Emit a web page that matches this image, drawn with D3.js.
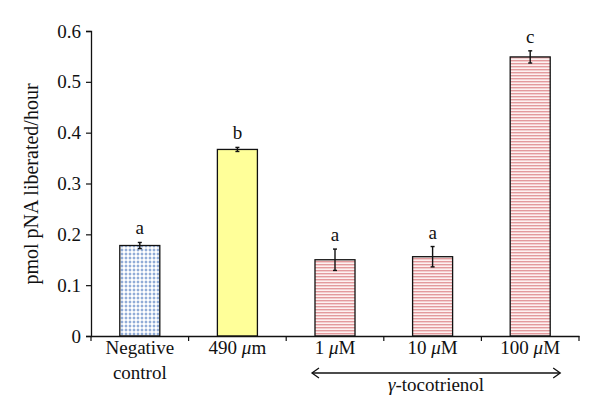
<!DOCTYPE html>
<html><head><meta charset="utf-8">
<script src="https://cdn.jsdelivr.net/npm/d3@7"></script>
<style>body{margin:0;background:#fff}svg{display:block}</style>
</head><body><div id="c"></div>
<script>
const categories = ["neg","490","1","10","100"];
const labelLines = [[["Negative",""]],[["490 ",""],["μ","i"],["m",""]],[["1 ",""],["μ","i"],["M",""]],[["10 ",""],["μ","i"],["M",""]],[["100 ",""],["μ","i"],["M",""]]];
const values = [0.178, 0.367, 0.150, 0.156, 0.549];
const errors = [0.006, 0.004, 0.021, 0.020, 0.012];
const letters = ["a","b","a","a","c"];
const fills = ["url(#dots)","#ffff99","url(#stripes)","url(#stripes)","url(#stripes)"];
const yTicks = [0,0.1,0.2,0.3,0.4,0.5,0.6];

const FF='"Liberation Serif"';
const W=600,H=418;
const svg=d3.select("#c").append("svg").attr("width",W).attr("height",H);
svg.append("rect").attr("width",W).attr("height",H).attr("fill","#fff");
const defs=svg.append("defs");
const pd=defs.append("pattern").attr("id","dots").attr("patternUnits","userSpaceOnUse").attr("width",4).attr("height",4);
pd.append("rect").attr("width",4).attr("height",4).attr("fill","#fff");
pd.append("path").attr("d","M2,0.3 L3.7,2 L2,3.7 L0.3,2Z").attr("fill","#8ea9d6");
const ps=defs.append("pattern").attr("id","stripes").attr("patternUnits","userSpaceOnUse").attr("width",6).attr("height",3);
ps.append("rect").attr("width",6).attr("height",3).attr("fill","#fdf1f1");
ps.append("rect").attr("y",0).attr("width",6).attr("height",1.4).attr("fill","#e39a9d");

const x=d3.scaleBand().domain(categories).range([91,579]).paddingInner(0.59).paddingOuter(0.295);
const xb=d3.scaleBand().domain(categories).range([91,579]);
const y=d3.scaleLinear().domain([0,0.6]).range([336,31]);

function txt(sel){return sel.style("font-family",FF).attr("fill","#111");}

// y axis
const ya=svg.append("g").attr("transform","translate(91,0)").call(d3.axisLeft(y).tickValues(yTicks).tickFormat(d=>d===0?"0":d3.format(".1f")(d)).tickSize(5).tickPadding(5));
ya.attr("font-family",null);
ya.select(".domain").attr("stroke","#111").attr("stroke-width",1.3);
ya.selectAll("line").attr("stroke","#111").attr("stroke-width",1.2);
txt(ya.selectAll("text")).attr("font-size",19);

// bars
svg.selectAll(".bar").data(categories).enter().append("rect")
 .attr("x",d=>x(d)).attr("width",x.bandwidth())
 .attr("y",(d,i)=>y(values[i])).attr("height",(d,i)=>y(0)-y(values[i]))
 .attr("fill",(d,i)=>fills[i]).attr("stroke","#111").attr("stroke-width",1.3);

// error bars
const eg=svg.append("g").attr("stroke","#111").attr("stroke-width",1.4);
categories.forEach((c,i)=>{
  const cx=x(c)+x.bandwidth()/2;
  eg.append("line").attr("x1",cx).attr("x2",cx).attr("y1",y(values[i]-errors[i])).attr("y2",y(values[i]+errors[i]));
  [values[i]-errors[i],values[i]+errors[i]].forEach(v=>eg.append("line").attr("x1",cx-2).attr("x2",cx+2).attr("y1",y(v)).attr("y2",y(v)));
  txt(svg.append("text")).attr("x",cx).attr("y",y(values[i]+errors[i])-8).attr("text-anchor","middle").attr("font-size",19).text(letters[i]);
});

// x axis
const xa=svg.append("g").attr("transform","translate(0,336)").call(d3.axisBottom(xb).tickSize(0).tickFormat(""));
xa.select(".domain").attr("stroke","#111").attr("stroke-width",1.3);
const bounds=categories.map(c=>xb(c)).concat([xb(categories[categories.length-1])+xb.bandwidth()]);
bounds.forEach(b=>svg.append("line").attr("x1",b).attr("x2",b).attr("y1",336).attr("y2",341).attr("stroke","#111").attr("stroke-width",1.2));

categories.forEach((c,i)=>{
  const t=txt(svg.append("text")).attr("x",x(c)+x.bandwidth()/2).attr("y",354).attr("text-anchor","middle").attr("font-size",19);
  labelLines[i].forEach(p=>t.append("tspan").attr("font-style",p[1]==="i"?"italic":"normal").text(p[0]));
});
txt(svg.append("text")).attr("x",x("neg")+x.bandwidth()/2).attr("y",379).attr("text-anchor","middle").attr("font-size",19).text("control");

// arrow for γ-tocotrienol
const ax1=x("1")-3, ax2=x("100")+x.bandwidth()+10, ay=373;
svg.append("line").attr("x1",ax1).attr("x2",ax2).attr("y1",ay).attr("y2",ay).attr("stroke","#111").attr("stroke-width",1.3);
svg.append("path").attr("d",`M${ax1+7},${ay-5} L${ax1},${ay} L${ax1+7},${ay+5}`).attr("fill","none").attr("stroke","#111").attr("stroke-width",1.3);
svg.append("path").attr("d",`M${ax2-7},${ay-5} L${ax2},${ay} L${ax2-7},${ay+5}`).attr("fill","none").attr("stroke","#111").attr("stroke-width",1.3);
const g=txt(svg.append("text")).attr("x",(ax1+ax2)/2).attr("y",391).attr("text-anchor","middle").attr("font-size",19);
g.append("tspan").attr("font-style","italic").text("γ");
g.append("tspan").text("-tocotrienol");

// y title
txt(svg.append("text")).attr("transform","translate(38,184) rotate(-90)").attr("text-anchor","middle").attr("font-size",20).text("pmol pNA liberated/hour");
</script></body></html>
